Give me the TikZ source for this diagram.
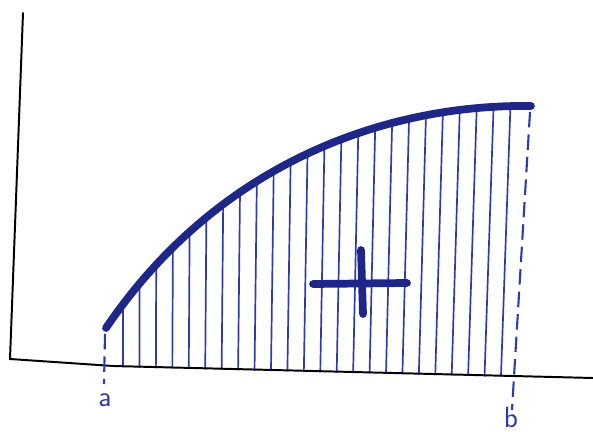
\documentclass[tikz,border=0pt]{standalone}
\usepackage{tikz}
\usetikzlibrary{calc}
\definecolor{inkdark}{RGB}{30,38,135}
\definecolor{inkblue}{RGB}{48,58,170}

\begin{document}
\begin{tikzpicture}[
    x=0.025cm, y=-0.025cm,
    % --- STYLES ---
    axis/.style={draw=black, line width=1.4pt, line cap=round},
    curve/.style={draw=inkdark, line width=5.5pt, line cap=round},
    hatch/.style={draw=inkblue, line width=1.2pt},
    bound/.style={draw=inkblue, line width=1.5pt, dash pattern=on 11pt off 5pt},
    lbl/.style={text=inkblue, font=\sffamily\huge, inner sep=0pt},
    sign/.style={draw=inkdark, line width=5.5pt, line cap=round}
]

\useasboundingbox (0,0) rectangle (593,432);

% ===== 1. COORDINATES =====
\coordinate (ytop)  at (23,13);
\coordinate (O)     at (10,359);
\coordinate (xbend) at (113,366);
\coordinate (xend)  at (593,378);

\coordinate (a_top) at (105,334);
\coordinate (a_bot) at (104,384);
\coordinate (b_top) at (530,112);
\coordinate (b_bot) at (512,410);

% ===== 2. HATCHING UNDER THE CURVE =====
\begin{scope}
    \clip (106,328) .. controls (220,160) and (390,104) .. (531,106)
        -- (512,377) -- (106,367) -- cycle;
    \foreach \i in {0,...,23} {
        \pgfmathsetmacro\xt{123+16.87*\i}
        \pgfmathsetmacro\xb{\xt-0.45*\i}
        \draw[hatch] (\xt,90) -- (\xb,385);
    }
\end{scope}

% ===== 3. AXES =====
\draw[axis] (ytop) -- (O) -- (xbend) -- (xend);

% ===== 4. BOUNDS a AND b =====
\draw[bound] (a_top) -- (a_bot);
\draw[bound] (b_top) -- (b_bot);

\node[lbl, anchor=base] (la) at (105,407) {a};
\node[lbl, anchor=base] (lb) at (511,428) {b};

% ===== 5. CURVE =====
\draw[curve] (106,328) .. controls (220,160) and (390,104) .. (531,106);

% ===== 6. PLUS SIGN =====
\coordinate (p_l) at (313,284);
\coordinate (p_r) at (407,283);
\coordinate (p_t) at (361,250);
\coordinate (p_b) at (363,314);
\draw[sign] (p_l) -- (p_r);
\draw[sign] (p_t) -- (p_b);

\end{tikzpicture}
\end{document}
